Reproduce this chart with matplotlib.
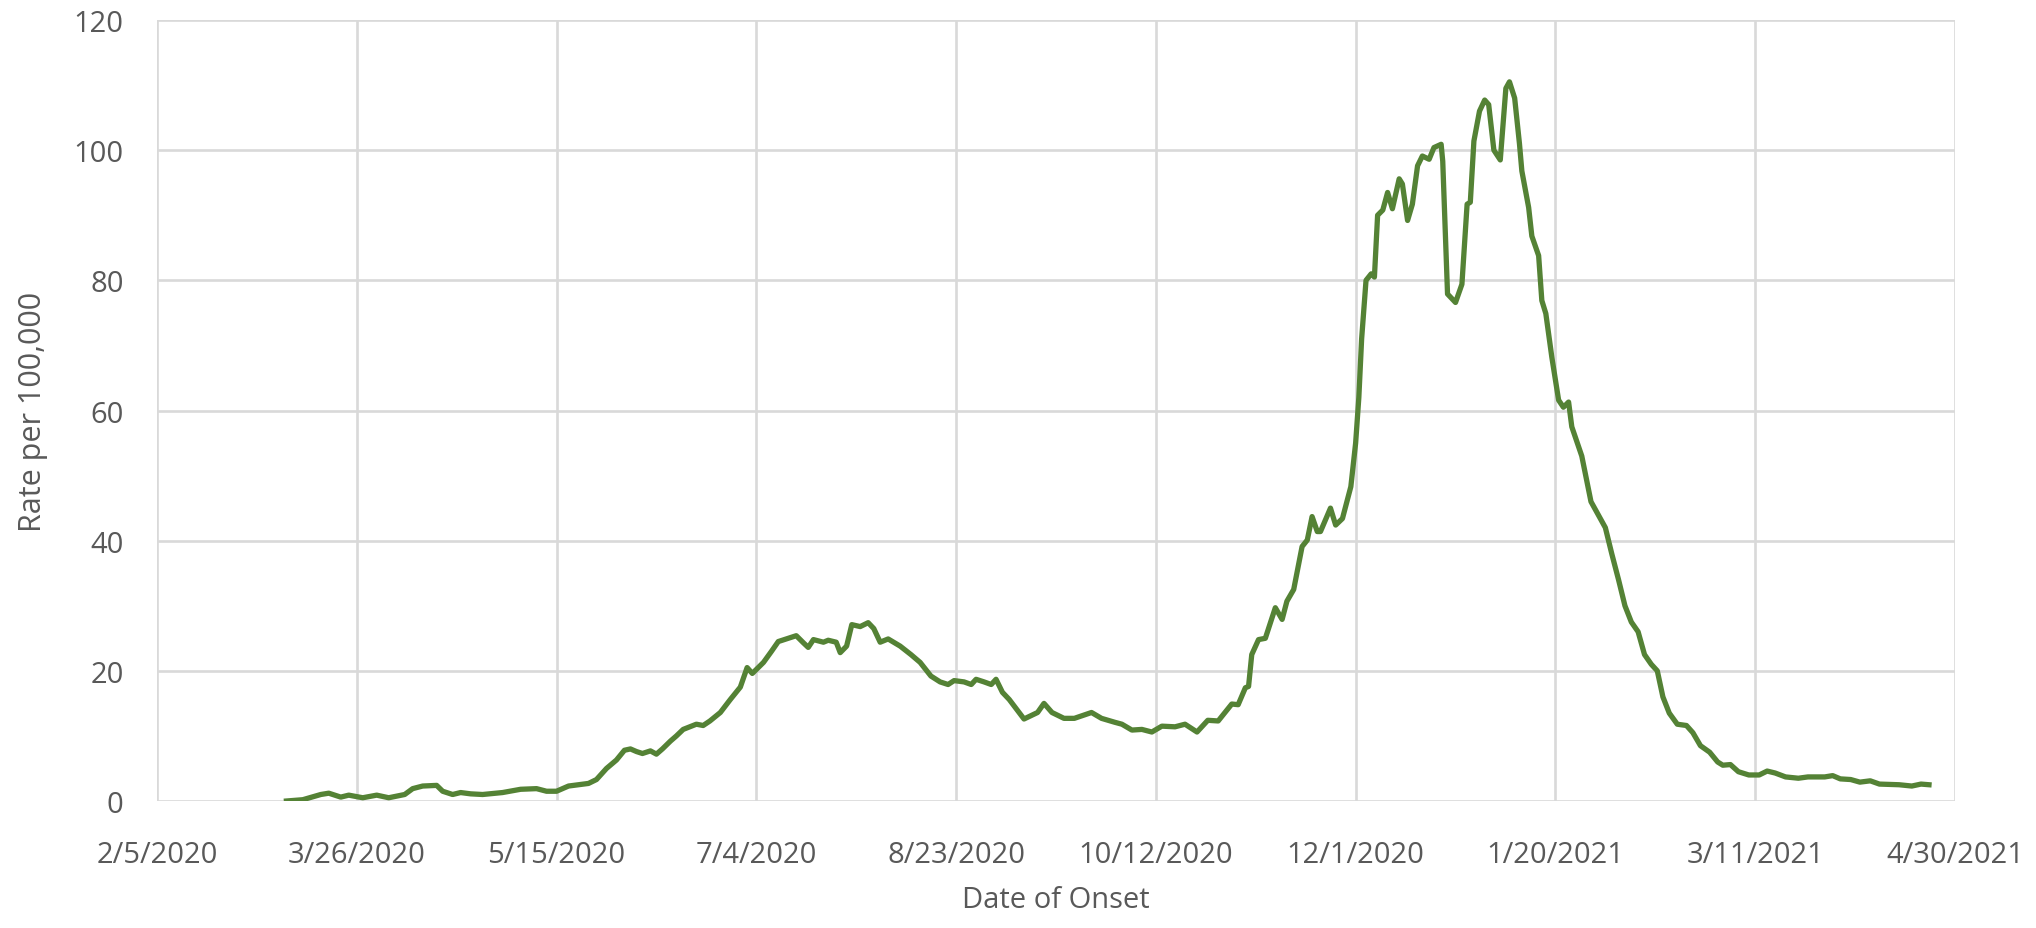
import matplotlib
matplotlib.use("Agg")
import matplotlib.pyplot as plt

# Days since 2/5/2020 and rate per 100,000
days = [32.4, 36.5, 41, 43, 46, 48, 51.5, 55, 58, 62, 64, 66.5, 70, 71.5, 74, 76, 78.5, 81.5,
        86.5, 91, 95, 97.5, 100, 103, 108, 110, 112.5, 115, 117, 118.5, 120, 121.5, 123.5, 125,
        126.5, 128.5, 130, 131.7, 135, 136.7, 138.4, 141, 143.5, 146, 147.7, 149, 151.8, 153.8,
        155.5, 157.5, 160, 161.8, 163, 164.3, 166.8, 168, 170, 171, 172.6, 173.9, 176, 178,
        179.4, 181, 183, 186, 188.7, 191, 193.7, 196, 198, 199.5, 202, 203.8, 205, 207, 208.8,
        210, 211.6, 213.3, 217, 220.4, 222, 224, 227, 229.6, 233.9, 236.4, 239.7, 241.5, 244,
        246.5, 249, 251.5, 254.8, 257.3, 260.3, 263, 265.6, 269, 270.6, 272.4, 273.2, 274,
        275.7, 277.4, 279.9, 281.6, 282.8, 284.5, 286.6, 287.9, 289.1, 290.4, 291.2, 293.7,
        295, 296.7, 298.8, 300, 300.8, 301.5, 302.6, 303.9, 304.7, 305.5, 306.8, 308, 309.2,
        310.9, 311.7, 313, 314.2, 315.5, 316.7, 318.4, 319.6, 321.4, 321.8, 323, 325, 326.6,
        327.9, 328.7, 329.6, 331, 332.3, 333.3, 334.6, 336.2, 337.6, 338.5, 339.8, 341, 341.6,
        343.3, 344.1, 345.8, 346.6, 347.6, 349.1, 350.8, 352, 353.3, 354.1, 356.6, 358.9,
        362.5, 364.1, 365.8, 367.4, 369, 370.7, 372.3, 374, 375.5, 376.9, 378.5, 380.5, 382.8,
        384.4, 386.3, 388.6, 390.6, 391.9, 393.8, 395.8, 398.4, 401, 403, 405, 407.6, 410.8,
        413.2, 417.4, 419.4, 421.3, 423.9, 426.2, 428.8, 431.1, 436, 439.2, 441.5, 443.5]
rates = [0.0, 0.2, 1.0, 1.2, 0.6, 0.9, 0.5, 0.9, 0.5, 1.0, 1.9, 2.3, 2.4, 1.5, 1.0, 1.3, 1.1, 1.0,
         1.3, 1.8, 1.9, 1.5, 1.5, 2.3, 2.7, 3.3, 5.0, 6.3, 7.8, 8.0, 7.6, 7.3, 7.7, 7.2,
         8.0, 9.2, 10.0, 11.0, 11.8, 11.6, 12.3, 13.6, 15.6, 17.5, 20.5, 19.6, 21.3, 23.0,
         24.5, 24.9, 25.4, 24.3, 23.6, 24.8, 24.4, 24.7, 24.4, 22.8, 23.8, 27.1, 26.8, 27.4,
         26.5, 24.4, 24.9, 23.8, 22.5, 21.3, 19.2, 18.3, 17.9, 18.5, 18.3, 17.9, 18.7, 18.3, 17.9,
         18.7, 16.7, 15.6, 12.6, 13.6, 15.0, 13.6, 12.7, 12.7, 13.6, 12.7, 12.1, 11.8, 10.9,
         11.0, 10.6, 11.5, 11.4, 11.8, 10.6, 12.4, 12.3, 14.9, 14.8, 17.4, 17.6, 22.5,
         24.8, 25.0, 29.7, 27.9, 30.7, 32.5, 39.1, 40.1, 43.7, 41.4, 41.4, 45.0,
         42.4, 43.4, 48.3, 55.0, 62.0, 71.0, 80.0, 81.0, 80.5, 90.0, 90.8, 93.5, 91.0,
         95.6, 94.8, 89.2, 91.7, 97.6, 99.1, 98.6, 100.4, 100.9, 98.3, 77.9, 76.6, 79.4,
         91.7, 92.0, 101.4, 106.0, 107.7, 107.0, 100.0, 98.5, 109.5, 110.5, 108.0, 101.0, 96.8,
         91.2, 86.8, 83.8, 76.9, 74.9, 68.2, 61.6, 60.5, 61.3, 57.5, 53.0, 46.0,
         42.0, 38.0, 34.0, 30.0, 27.5, 26.0, 22.5, 21.0, 20.0, 16.0, 13.5, 11.8, 11.6,
         10.5, 8.5, 7.5, 6.0, 5.5, 5.6, 4.5, 4.0, 4.0, 4.6, 4.3, 3.7, 3.5,
         3.7, 3.7, 3.9, 3.4, 3.3, 2.9, 3.1, 2.6, 2.5, 2.3, 2.6, 2.5]

tick_days = [0, 50, 100, 150, 200, 250, 300, 350, 400, 450]
tick_labels = ["2/5/2020", "3/26/2020", "5/15/2020", "7/4/2020", "8/23/2020",
               "10/12/2020", "12/1/2020", "1/20/2021", "3/11/2021", "4/30/2021"]
y_ticks = [0, 20, 40, 60, 80, 100, 120]

plt.rcParams['font.family'] = ['Open Sans', 'DejaVu Sans']
text_color = "#595959"
grid_color = "#d9d9d9"

fig = plt.figure(figsize=(20.36, 9.29), dpi=100)
ax = fig.add_axes([0.0771, 0.1367, 0.8831, 0.8407])

ax.plot(days, rates, color="#548235", linewidth=3.8, solid_joinstyle="round", zorder=3)

ax.set_xlim(0, 450)
ax.set_ylim(0, 120)
ax.set_xticks(tick_days)
ax.set_xticklabels(tick_labels)
ax.set_yticks(y_ticks)
ax.grid(True, color=grid_color, linewidth=1.9, zorder=0)
ax.set_axisbelow(True)
for s in ax.spines.values():
    s.set_visible(False)
ax.tick_params(axis="both", length=0, labelsize=21, labelcolor=text_color)
ax.tick_params(axis="x", pad=28)
ax.tick_params(axis="y", pad=24)
ax.set_xlabel("Date of Onset", fontsize=21, color=text_color)
ax.set_ylabel("Rate per 100,000", fontsize=22, color=text_color)
ax.xaxis.set_label_coords(0.5, -0.126)
ax.yaxis.set_label_coords(-0.069, 0.5)
ax.xaxis.label.set_va("center")
ax.yaxis.label.set_va("center")

fig.savefig("out.png", dpi=100, facecolor="white")
